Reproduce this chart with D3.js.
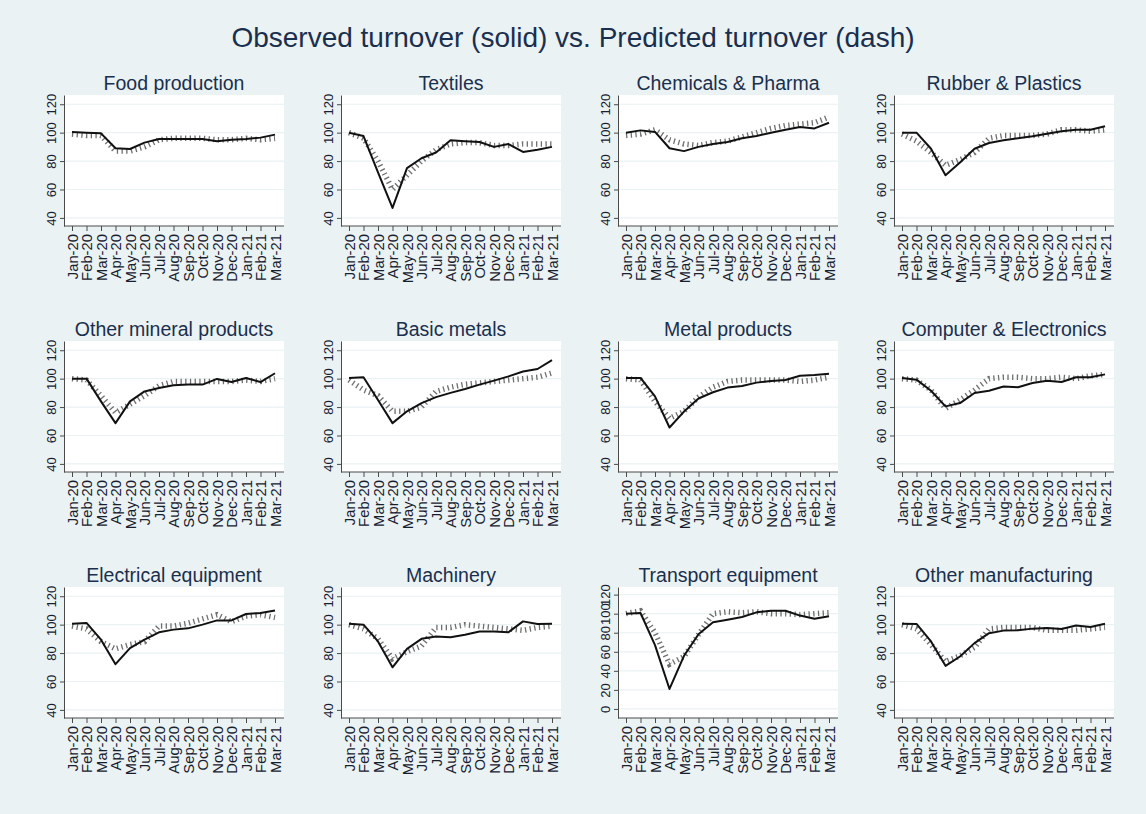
<!DOCTYPE html>
<html><head><meta charset="utf-8">
<script src="https://cdn.jsdelivr.net/npm/d3@7"></script>
<style>
html,body{margin:0;padding:0;background:#eaf2f3;}
svg{display:block;font-family:"Liberation Sans",Arial,sans-serif;}
</style></head>
<body>
<svg id="chart" width="1146" height="814"></svg>
<script>
const mainTitle = "Observed turnover (solid) vs. Predicted turnover (dash)";
const months = ["Jan-20","Feb-20","Mar-20","Apr-20","May-20","Jun-20","Jul-20","Aug-20","Sep-20","Oct-20","Nov-20","Dec-20","Jan-21","Feb-21","Mar-21"];
const sectors = ["Food production","Textiles","Chemicals & Pharma","Rubber & Plastics","Other mineral products","Basic metals","Metal products","Computer & Electronics","Electrical equipment","Machinery","Transport equipment","Other manufacturing"];
const yTicksStd = [40,60,80,100,120];
const yTicksTransport = [0,20,40,60,80,100,120];

const obsFood     = [100.5,100,99.5,89,88.5,93,95.5,95.5,95.5,95.5,94,95,95.5,96.5,98.6];
const predFood    = [99,98,98,87,87,90,95,96,96,96,95,95,96,95,96];
const obsTextiles = [100,97.6,72,47,75,82,86,94.6,94,93.4,90,92,86.4,88,90];
const predTextiles= [100,96,80,60,70,80,88,92,93,93,91,91,92,92,92];
const obsChem     = [100,101.6,100.5,89,87,90,92,93.4,96,97.6,100,102,104,103,107];
const predChem    = [98,99,102,95,92,91,93,94,97,100,103,105,106,107,111];
const obsRubber   = [100,100,88.7,70,79,88.7,92.7,94.6,96,97.4,99.3,101,102,102,104.5];
const predRubber  = [99,94,86,77,81,86,96,98,98,98,99,102,102,101,102];
const obsMineral  = [100,100,84,68.7,84,91,93.4,95.3,95.8,95.8,99.8,97.6,100.5,97.6,103.8];
const predMineral = [100,99,88,76,82,88,95,98,98,98,98,98,99,98,100];
const obsMetals   = [100.5,101,85,68.7,77,82.8,87,90,92.7,95.8,98.6,101.6,105,106.8,113];
const predMetals  = [99,92,88,77,77,80,91,94,96,97,98,99,100,101,104];
const obsMetProd  = [100.5,100.5,87.5,65.6,76.8,86,90.4,93.7,94.8,97.2,98.4,99,102,102.6,103.5];
const predMetProd = [100,99,84,72,77,87,94,98,99,99,99,99,98,99,101];
const obsComp     = [100.5,99.3,91.5,80.5,82.8,89.9,91.5,94.5,94,96.9,98.6,97.6,101,101,103];
const predComp    = [100,99,92,79,85,92,100,101,101,100,100,101,100,102,103];
const obsElec     = [100.7,101.2,89.4,72.2,83.5,89.4,94.6,96.5,97.4,100,103,103,107.5,108.2,110];
const predElec    = [99,97,88,83,86,88,99,99,101,104,107,102,106,107,105];
const obsMach     = [100.7,100,88.2,70,83,90,91.7,91.2,92.9,95.2,95.2,94.7,102.3,100.5,100.7];
const predMach    = [100,97,90,76,81,85,98,98,100,99,98,97,96,98,99];
const obsTrans    = [100,100.7,67,21,55.8,78.4,91,93.6,96.5,101.4,103,103,98,94.7,97.2];
const predTrans   = [100,103,80,47,55,78,100,102,101,102,100,100,99,100,101];
const obsOther    = [100.7,100.5,88.2,71,77.6,87,94,95.8,96,97.2,97.6,97,99.4,98.4,100.7];
const predOther   = [100,97,86,74,78,84,97,98,98,98,96,96,96,97,98];

const observed  = [obsFood,obsTextiles,obsChem,obsRubber,obsMineral,obsMetals,obsMetProd,obsComp,obsElec,obsMach,obsTrans,obsOther];
const predicted = [predFood,predTextiles,predChem,predRubber,predMineral,predMetals,predMetProd,predComp,predElec,predMach,predTrans,predOther];

const svg = d3.select("#chart");
const W = 1146, H = 814;
svg.append("rect").attr("width",W).attr("height",H).attr("fill","#eaf2f3");

const titleColor = "#1a2f4d";
const labelColor = "#17202e";

svg.append("text").attr("x",573).attr("y",47).attr("text-anchor","middle")
  .attr("font-size",28).attr("fill",titleColor).text(mainTitle);

const colLeft = [64, 341, 618, 894];
const rowTop = [95, 341, 587];
const pw = 220, ph = 131;

sectors.forEach((name, i) => {
  const c = i % 4, r = Math.floor(i / 4);
  const g = svg.append("g").attr("transform", `translate(${colLeft[c]},${rowTop[r]})`);
  const isTrans = name === "Transport equipment";
  const ticks = isTrans ? yTicksTransport : yTicksStd;
  const y = d3.scaleLinear().domain(isTrans ? [-9.5, 128] : [34.3, 126.5]).range([ph, 0]);
  const x = d3.scalePoint().domain(months).range([8, pw - 9]);

  g.append("rect").attr("width", pw).attr("height", ph).attr("fill", "#ffffff");
  g.selectAll("line.grid").data(ticks).join("line").attr("class","grid")
    .attr("x1",0).attr("x2",pw).attr("y1",d=>y(d)).attr("y2",d=>y(d))
    .attr("stroke","#eaf2f3").attr("stroke-width",1.2);

  g.append("text").attr("x", pw/2).attr("y", -5).attr("text-anchor","middle")
    .attr("font-size",19.5).attr("fill",titleColor).text(name);

  const ya = g.append("g").call(d3.axisLeft(y).tickValues(ticks).tickSize(4).tickSizeOuter(0).tickPadding(3));
  ya.select(".domain").attr("stroke","#4a4a4a");
  ya.selectAll(".tick line").attr("stroke","#4a4a4a");
  ya.selectAll(".tick text")
    .attr("font-size",13).attr("fill",labelColor).attr("font-family","Liberation Sans, Arial, sans-serif")
    .attr("text-anchor","middle").attr("x",0).attr("dy",0)
    .attr("transform","translate(-8,0) rotate(-90)");

  const xa = g.append("g").attr("transform",`translate(0,${ph})`)
    .call(d3.axisBottom(x).tickSize(5).tickSizeOuter(0));
  xa.select(".domain").attr("stroke","#4a4a4a").attr("d",`M0,0H${pw}`);
  xa.selectAll(".tick line").attr("stroke","#4a4a4a");
  xa.selectAll(".tick text")
    .attr("font-size",14.8).attr("fill",labelColor).attr("font-family","Liberation Sans, Arial, sans-serif")
    .attr("text-anchor","end").attr("x",0).attr("y",0).attr("dy","0.36em")
    .attr("transform","translate(0,8) rotate(-90)");

  const line = d3.line().x((d,j)=>x(months[j])).y(d=>y(d));
  g.append("path").datum(predicted[i]).attr("d", line).attr("fill","none")
    .attr("stroke","#6e6e6e").attr("stroke-width",5.5).attr("stroke-dasharray","1.3,3.4");
  g.append("path").datum(observed[i]).attr("d", line).attr("fill","none")
    .attr("stroke","#111").attr("stroke-width",2).attr("stroke-linejoin","round");
});
</script>
</body></html>
